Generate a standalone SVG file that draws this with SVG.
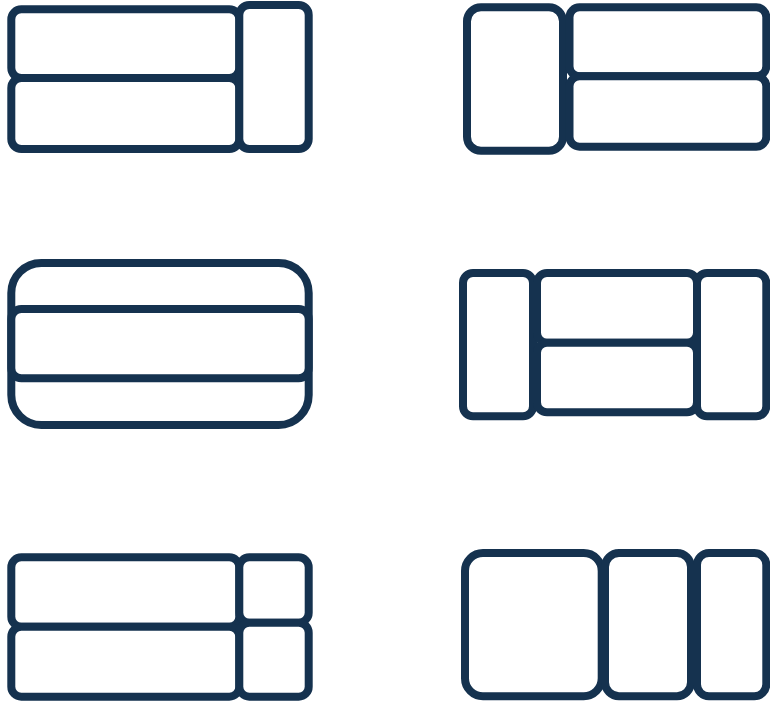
<svg xmlns="http://www.w3.org/2000/svg" width="770" height="701" viewBox="0 0 770 701">
<style>
.b{fill:#ffffff;stroke:#15324f;stroke-width:8}
</style>
<rect width="770" height="701" fill="#ffffff"/>
<g id="layout1">
<g id="l1-top"><rect class="b" x="11.3" y="9.3" width="228" height="68.7" rx="10"/></g>
<g id="l1-bottom"><rect class="b" x="11.3" y="78" width="228" height="71" rx="10"/></g>
<g id="l1-right"><rect class="b" x="239.3" y="5" width="69.4" height="144" rx="10"/></g>
</g>
<g id="layout2">
<g id="l2-left"><rect class="b" x="467" y="7.3" width="96" height="143.4" rx="14"/></g>
<g id="l2-top"><rect class="b" x="569.5" y="7.3" width="196.8" height="69" rx="10"/></g>
<g id="l2-bottom"><rect class="b" x="569.5" y="76.3" width="196.8" height="70.4" rx="10"/></g>
</g>
<g id="layout3">
<g id="l3-outer"><rect class="b" x="11.3" y="263" width="297.4" height="162" rx="30"/></g>
<g id="l3-middle"><rect class="b" x="11.3" y="309" width="297.4" height="69.3" rx="10"/></g>
</g>
<g id="layout4">
<g id="l4-left"><rect class="b" x="463" y="273" width="70" height="143.3" rx="10"/></g>
<g id="l4-top"><rect class="b" x="537" y="273" width="160" height="69.7" rx="10"/></g>
<g id="l4-bottom"><rect class="b" x="537" y="342.7" width="160" height="69.6" rx="10"/></g>
<g id="l4-right"><rect class="b" x="697" y="273" width="69.3" height="143.3" rx="10"/></g>
</g>
<g id="layout5">
<g id="l5-topleft"><rect class="b" x="11.3" y="557.3" width="228" height="69.4" rx="10"/></g>
<g id="l5-bottomleft"><rect class="b" x="11.3" y="626.7" width="228" height="70" rx="10"/></g>
<g id="l5-topright"><rect class="b" x="239.3" y="557.3" width="69.4" height="65.4" rx="10"/></g>
<g id="l5-bottomright"><rect class="b" x="239.3" y="622.7" width="69.4" height="74" rx="10"/></g>
</g>
<g id="layout6">
<g id="l6-left"><rect class="b" x="465" y="553" width="136.7" height="143.3" rx="18"/></g>
<g id="l6-middle"><rect class="b" x="605" y="553" width="86" height="143.3" rx="14"/></g>
<g id="l6-right"><rect class="b" x="697" y="553" width="69.3" height="143.3" rx="12"/></g>
</g>
</svg>
